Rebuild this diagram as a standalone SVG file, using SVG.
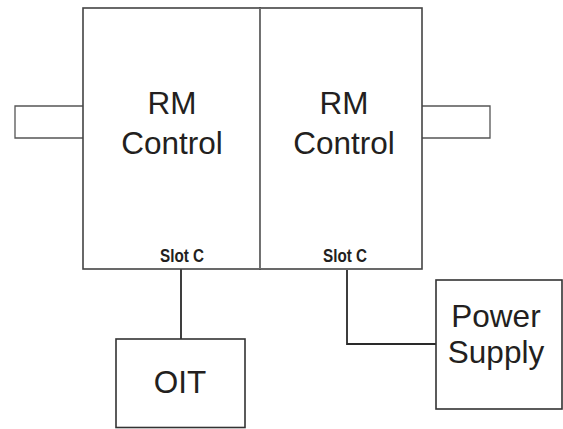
<svg xmlns="http://www.w3.org/2000/svg" width="563" height="429" viewBox="0 0 563 429">
  <style>
    .box { fill: #ffffff; stroke: #333333; stroke-width: 1.6; }
    .thin { fill: none; stroke: #555555; stroke-width: 1.3; }
    .wire { fill: none; stroke: #2a2a2a; stroke-width: 1.8; }
    .label { font-family: "Liberation Sans", Arial, sans-serif; font-size: 31.5px; fill: #231f20; text-anchor: middle; }
    .slot { font-family: "Liberation Sans Narrow", "Liberation Sans", Arial, sans-serif; font-size: 18px; font-weight: bold; fill: #231f20; text-anchor: middle; }
  </style>
  <rect width="563" height="429" fill="#ffffff"/>

  <g id="connectors">
    <path class="wire" d="M181 269 V339"/>
    <path class="wire" d="M347 270 V344 H436"/>
  </g>

  <g id="tab-left">
    <path class="thin" d="M83 106 H15 V138 H83"/>
  </g>
  <g id="tab-right">
    <path class="thin" d="M422 106 H490 V138 H422"/>
  </g>

  <g id="rm-control-left">
    <rect class="box" x="83" y="8" width="177" height="261" style="stroke:#444"/>
    <text class="label" x="172" y="114">RM</text>
    <text class="label" x="172" y="154">Control</text>
    <text class="slot" x="182" y="262" textLength="44" lengthAdjust="spacingAndGlyphs">Slot C</text>
  </g>

  <g id="rm-control-right">
    <rect class="box" x="260" y="8" width="162" height="261" style="stroke:#444"/>
    <line x1="260" y1="8" x2="260" y2="269" stroke="#777777" stroke-width="1.6"/>
    <text class="label" x="344" y="114">RM</text>
    <text class="label" x="344" y="154">Control</text>
    <text class="slot" x="345" y="262" textLength="44" lengthAdjust="spacingAndGlyphs">Slot C</text>
  </g>

  <g id="oit">
    <rect class="box" x="116" y="339" width="129" height="88.5"/>
    <text class="label" x="180" y="393">OIT</text>
  </g>

  <g id="power-supply">
    <rect class="box" x="436" y="280" width="126" height="129"/>
    <text class="label" x="496" y="327">Power</text>
    <text class="label" x="496" y="363">Supply</text>
  </g>
</svg>
